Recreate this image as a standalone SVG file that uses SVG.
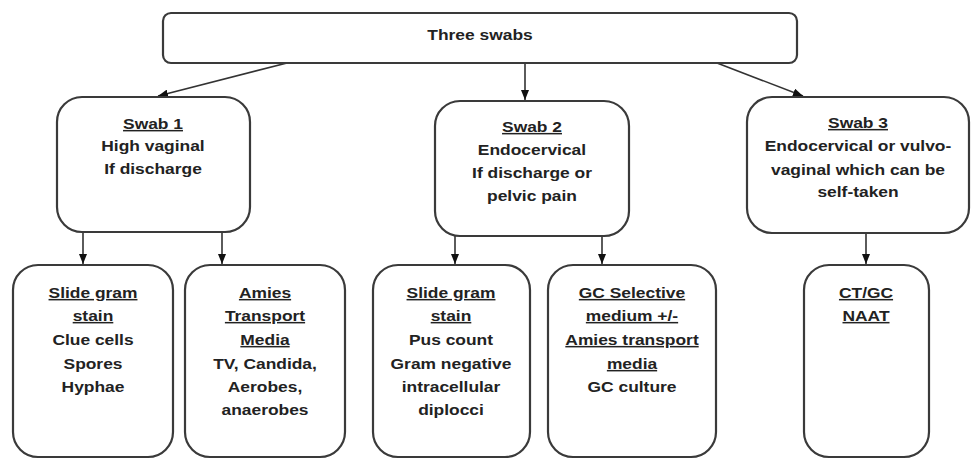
<svg xmlns="http://www.w3.org/2000/svg" width="971" height="459" viewBox="0 0 971 459">
<defs>
<marker id="arr" viewBox="0 0 10 8" refX="10" refY="4" markerWidth="10" markerHeight="8" markerUnits="userSpaceOnUse" orient="auto">
<path d="M0,0 L10,4 L0,8 z" fill="#111"/>
</marker>
</defs>
<style>
.box{fill:#fff;stroke:#3a3a3a;stroke-width:2.2}
.t{font-family:"Liberation Sans",Arial,sans-serif;font-weight:bold;font-size:15px;fill:#222;text-anchor:middle}
.u{text-decoration:underline}
.c{stroke:#333;stroke-width:1.6;fill:none;marker-end:url(#arr)}
</style>
<rect width="971" height="459" fill="#fff"/>
<g id="connectors">
<line class="c" x1="287" y1="63" x2="158" y2="96"/>
<line class="c" x1="525" y1="63" x2="525" y2="100"/>
<line class="c" x1="717" y1="63" x2="803" y2="96"/>
<line class="c" x1="83" y1="232" x2="83" y2="264"/>
<line class="c" x1="222" y1="232" x2="222" y2="264"/>
<line class="c" x1="455" y1="236" x2="455" y2="264"/>
<line class="c" x1="602" y1="236" x2="602" y2="264"/>
<line class="c" x1="866" y1="233" x2="866" y2="264"/>
</g>
<g id="top">
<rect class="box" x="163" y="13" width="634" height="50" rx="8"/>
<g transform="translate(480 0) scale(1.16 1)"><text class="t" x="0" y="40">Three swabs</text></g>
</g>
<g id="swab1">
<rect class="box" x="57" y="97" width="193" height="135" rx="25"/>
<g transform="translate(153 0) scale(1.16 1)">
<text class="t u" x="0" y="129">Swab 1</text>
<text class="t" x="0" y="151">High vaginal</text>
<text class="t" x="0" y="174">If discharge</text>
</g>
</g>
<g id="swab2">
<rect class="box" x="435" y="101" width="194" height="135" rx="25"/>
<g transform="translate(532 0) scale(1.16 1)">
<text class="t u" x="0" y="132">Swab 2</text>
<text class="t" x="0" y="155">Endocervical</text>
<text class="t" x="0" y="178">If discharge or</text>
<text class="t" x="0" y="201">pelvic pain</text>
</g>
</g>
<g id="swab3">
<rect class="box" x="747" y="97" width="222" height="136" rx="25"/>
<g transform="translate(858 0) scale(1.16 1)">
<text class="t u" x="0" y="128">Swab 3</text>
<text class="t" x="0" y="151">Endocervical or vulvo-</text>
<text class="t" x="0" y="175">vaginal which can be</text>
<text class="t" x="0" y="197">self-taken</text>
</g>
</g>
<g id="box1">
<rect class="box" x="13" y="265" width="160" height="192" rx="25"/>
<g transform="translate(93 0) scale(1.16 1)">
<text class="t u" x="0" y="298">Slide gram</text>
<text class="t u" x="0" y="321">stain</text>
<text class="t" x="0" y="345">Clue cells</text>
<text class="t" x="0" y="369">Spores</text>
<text class="t" x="0" y="392">Hyphae</text>
</g>
</g>
<g id="box2">
<rect class="box" x="185" y="265" width="160" height="192" rx="25"/>
<g transform="translate(265 0) scale(1.16 1)">
<text class="t u" x="0" y="298">Amies</text>
<text class="t u" x="0" y="321">Transport</text>
<text class="t u" x="0" y="345">Media</text>
<text class="t" x="0" y="369">TV, Candida,</text>
<text class="t" x="0" y="392">Aerobes,</text>
<text class="t" x="0" y="415">anaerobes</text>
</g>
</g>
<g id="box3">
<rect class="box" x="373" y="265" width="157" height="192" rx="25"/>
<g transform="translate(451 0) scale(1.16 1)">
<text class="t u" x="0" y="298">Slide gram</text>
<text class="t u" x="0" y="321">stain</text>
<text class="t" x="0" y="345">Pus count</text>
<text class="t" x="0" y="369">Gram negative</text>
<text class="t" x="0" y="392">intracellular</text>
<text class="t" x="0" y="415">diplocci</text>
</g>
</g>
<g id="box4">
<rect class="box" x="548" y="265" width="168" height="192" rx="25"/>
<g transform="translate(632 0) scale(1.16 1)">
<text class="t u" x="0" y="298">GC Selective</text>
<text class="t u" x="0" y="321">medium +/-</text>
<text class="t u" x="0" y="345">Amies transport</text>
<text class="t u" x="0" y="369">media</text>
<text class="t" x="0" y="392">GC culture</text>
</g>
</g>
<g id="box5">
<rect class="box" x="804" y="265" width="125" height="192" rx="25"/>
<g transform="translate(866 0) scale(1.16 1)">
<text class="t u" x="0" y="298">CT/GC</text>
<text class="t u" x="0" y="321">NAAT</text>
</g>
</g>
</svg>
